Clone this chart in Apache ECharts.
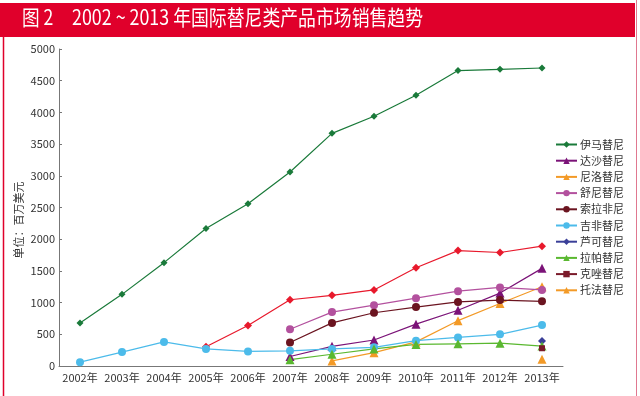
<!DOCTYPE html>
<html><head><meta charset="utf-8">
<script src="https://cdn.jsdelivr.net/npm/echarts@6/dist/echarts.min.js"></script>
<style>html,body{margin:0;padding:0;background:#fff}#c{width:640px;height:396px}</style>
</head><body><div id="c"></div>
<script>
var years = ['2002年','2003年','2004年','2005年','2006年','2007年','2008年','2009年','2010年','2011年','2012年','2013年'];
var imatinib  = [680,1130,1630,2170,2560,3060,3670,3940,4270,4660,4680,4700];
var erlotinib = [null,null,null,305,640,1045,1115,1200,1550,1820,1790,1890];
var dasatinib = [null,null,null,null,null,150,310,410,660,880,1150,1540];
var nilotinib = [null,null,null,null,null,null,80,210,380,715,985,1250];
var sunitinib = [null,null,null,null,null,580,850,960,1070,1180,1240,1200];
var sorafenib = [null,null,null,null,null,370,680,840,930,1010,1040,1020];
var gefitinib = [60,220,380,270,230,240,270,295,400,450,500,645];
var ruxolitinib = [null,null,null,null,null,null,null,null,null,null,null,395];
var lapatinib = [null,null,null,null,null,100,185,270,340,350,360,315];
var crizotinib = [null,null,null,null,null,null,null,null,null,null,null,280];
var tofacitinib = [null,null,null,null,null,null,null,null,null,null,null,105];
var yTicks = [0,500,1000,1500,2000,2500,3000,3500,4000,4500,5000];
var legendNames = ['伊马替尼','达沙替尼','尼洛替尼','舒尼替尼','索拉非尼','吉非替尼','芦可替尼','拉帕替尼','克唑替尼','托法替尼'];
var yName = '单位：百万美元';

function s(name, data, color, symbol, size){
  return {name:name, type:'line', data:data, symbol:symbol, symbolSize:size,
    lineStyle:{color:color,width:1.2}, itemStyle:{color:color}, connectNulls:false, animation:false, z:3};
}
var chart = echarts.init(document.getElementById('c'));
chart.setOption({
  animation:false,
  textStyle:{fontFamily:'Noto Sans CJK SC, sans-serif'},
  graphic:[
    {type:'rect', shape:{x:0,y:3,width:635,height:34}, style:{fill:'#e0002b'}, z:0},
    {type:'line', shape:{x1:3.5,y1:37,x2:3.5,y2:396}, style:{stroke:'#e0002b',lineWidth:1.5}},
    {type:'line', shape:{x1:636.5,y1:0,x2:636.5,y2:396}, style:{stroke:'#e07890',lineWidth:1}},
    {type:'text', x:22, y:7, scaleX:0.84, style:{text:'图 2', fill:'#fff', font:'21px "Noto Sans CJK SC", sans-serif'}},
    {type:'text', x:72, y:7, scaleX:0.85, style:{text:'2002 ~ 2013 年国际替尼类产品市场销售趋势', fill:'#fff', font:'21px "Noto Sans CJK SC", sans-serif'}},
    {type:'text', x:19, y:220, rotation:Math.PI/2, style:{text:yName, fill:'#333', font:'11px "Noto Sans CJK SC", sans-serif', align:'center', verticalAlign:'middle'}}
  ],
  grid:{left:59, right:77, top:49, bottom:30},
  legend:{
    data:legendNames, orient:'vertical', left:550, top:134, itemGap:5.2,
    itemWidth:21, itemHeight:8, textStyle:{fontSize:11,color:'#333',padding:[0,0,0,-2]}
  },
  xAxis:{type:'category', data:years, boundaryGap:true,
    axisLine:{lineStyle:{color:'#777',width:1}},
    axisTick:{inside:true, length:4, lineStyle:{color:'#777'}},
    axisLabel:{fontSize:11, color:'#333', margin:6, interval:0}},
  yAxis:{type:'value', min:0, max:5000, interval:500,
    axisLine:{show:true, lineStyle:{color:'#777'}},
    axisTick:{show:true, inside:true, length:3, lineStyle:{color:'#777'}},
    splitLine:{show:false},
    axisLabel:{fontSize:11, color:'#333', margin:4,
      formatter:function(v){return yTicks.indexOf(v)>=0 ? String(v) : '';}}},
  series:[
    s('伊马替尼', imatinib, '#1a7a3a', 'diamond', 7),
    s('厄洛替尼', erlotinib, '#e8192c', 'diamond', 8),
    s('达沙替尼', dasatinib, '#7b1378', 'triangle', 9),
    s('尼洛替尼', nilotinib, '#f39a27', 'triangle', 9),
    s('舒尼替尼', sunitinib, '#b3519e', 'circle', 8),
    s('索拉非尼', sorafenib, '#6b1420', 'circle', 8),
    s('吉非替尼', gefitinib, '#4cbbea', 'circle', 8),
    s('芦可替尼', ruxolitinib, '#3a3f98', 'diamond', 8),
    s('拉帕替尼', lapatinib, '#5ab830', 'triangle', 9),
    s('克唑替尼', crizotinib, '#7a1a2a', 'rect', 6),
    s('托法替尼', tofacitinib, '#f39a27', 'triangle', 9)
  ]
});
</script></body></html>
